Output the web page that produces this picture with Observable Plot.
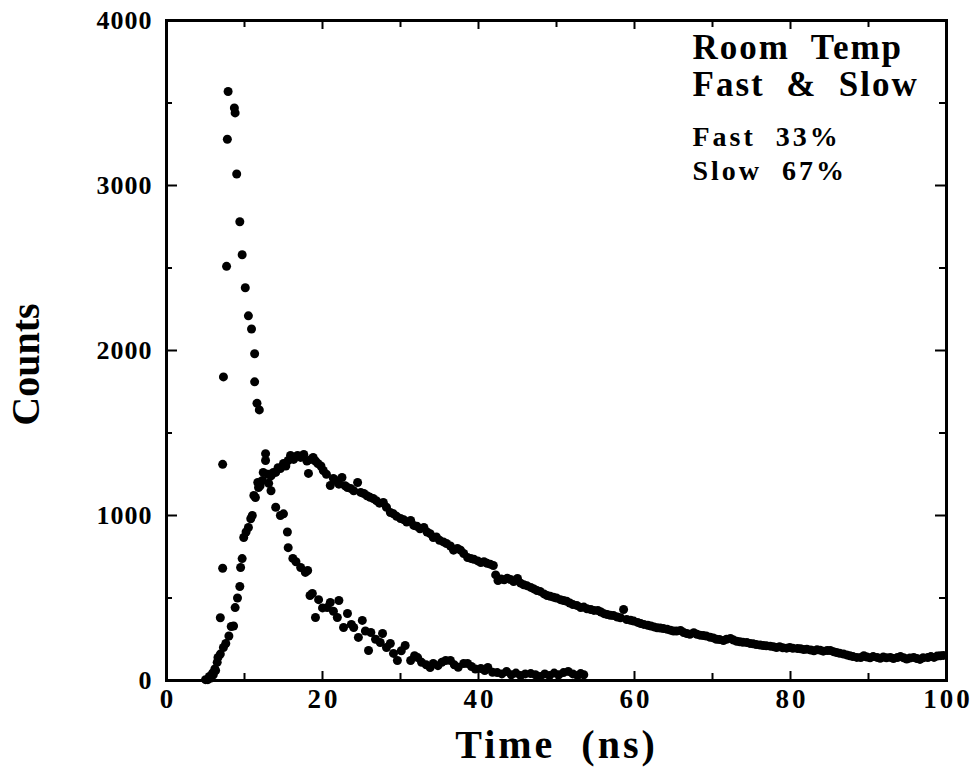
<!DOCTYPE html>
<html>
<head>
<meta charset="utf-8">
<script src="https://cdn.jsdelivr.net/npm/d3@7"></script>
<script src="https://cdn.jsdelivr.net/npm/@observablehq/plot@0.6"></script>
<style>
  html, body { margin: 0; padding: 0; background: #fff; }
  #chart svg { display: block; }
  #chart svg text { white-space: pre; }
  .xtl text { letter-spacing: 3px; }
  .ytl text { letter-spacing: 1px; }
  .big text { letter-spacing: 2px; }
  .mid text { letter-spacing: 3px; }
  .axt text { letter-spacing: 3px; }
</style>
</head>
<body>
<div id="chart"></div>
<script>
// ---- data (time in ns, counts) ----
const fastTime = [5.3,5.7,6.0,6.3,6.6,6.9,7.2,7.2,7.3,7.7,7.8,7.9,8.7,8.8,9.0,9.4,9.7,10.1,10.5,10.9,11.3,11.3,11.6,11.9,12.7,13.1,13.4,14.0,14.6,15.0,15.5,15.6,16.2,16.6,17.2,17.8,18.1,18.4,18.7,19.1,19.5,20.0,20.6,21.0,21.4,21.9,22.1,22.7,23.2,23.7,24.0,24.6,25.1,25.5,25.9,26.2,26.8,27.4,27.7,28.2,28.7,29.1,29.6,30.1,30.6,31.3,31.8,32.2,32.7,33.3,33.8,34.2,34.8,35.3,35.8,36.4,36.9,37.4,38.1,38.6,39.1,39.6,40.3,40.8,41.2,41.8,42.4,43.0,43.6,44.2,44.8,45.4,46.0,46.7,47.3,47.9,48.5,49.1,49.7,50.3,50.9,51.5,52.1,52.7,53.1,53.5];
const fastCounts = [5,15,35,60,140,380,680,1310,1840,2510,3280,3570,3470,3440,3070,2780,2580,2380,2210,2130,1980,1810,1680,1640,1375,1195,1150,1050,1000,1010,900,805,740,720,685,655,667,515,527,382,490,440,442,473,420,382,485,321,406,340,321,261,364,300,182,291,250,230,285,200,224,164,121,180,212,121,150,139,110,95,79,103,90,110,121,121,95,80,103,103,85,70,73,60,79,50,48,40,55,35,45,30,40,42,35,25,40,30,45,35,48,55,40,30,42,35];

const slowTime = [5.0,5.5,5.9,6.2,6.5,6.9,7.3,7.6,8.0,8.3,8.6,8.8,9.1,9.4,9.5,9.7,9.9,10.2,10.5,10.8,11.0,11.2,11.4,11.7,11.8,12.0,12.3,12.4,12.7,13.0,13.4,13.7,14.0,14.3,14.6,15.0,15.3,15.6,15.9,16.3,16.8,17.2,17.6,18.0,18.2,18.5,18.8,19.1,19.4,19.8,20.1,20.5,21.0,21.4,21.8,22.1,22.5,22.9,23.2,23.6,24.0,24.5,24.9,25.3,25.7,26.1,26.5,26.9,27.3,27.8,28.2,28.7,29.1,29.5,30.0,30.4,30.8,31.3,31.7,32.1,32.5,33.0,33.4,33.8,34.2,34.6,35.0,35.5,35.9,36.4,36.8,37.3,37.7,38.1,38.6,39.0,39.4,39.9,40.3,40.7,41.1,41.5,41.9,42.2,42.5,42.9,43.3,43.7,44.1,44.5,45.0,45.4,45.8,46.2,46.7,47.1,47.5,47.9,48.4,48.8,49.2,49.6,50.0,50.5,50.9,51.3,51.7,52.1,52.6,53.1,53.5,53.9,54.4,54.8,55.3,55.7,56.1,56.5,56.9,57.3,57.8,58.2,58.6,59.0,59.5,59.9,60.4,60.8,61.2,61.7,62.1,62.5,62.9,63.3,63.7,64.2,64.6,65.0,65.4,65.9,66.3,66.7,67.1,67.6,68.0,68.4,68.8,69.2,69.7,70.1,70.5,70.9,71.4,71.8,72.3,72.7,73.1,73.5,73.9,74.4,74.8,75.2,75.6,76.1,76.5,76.9,77.4,77.8,78.2,78.6,79.0,79.5,79.9,80.3,80.9,81.3,81.7,82.1,82.6,83.0,83.4,83.8,84.2,84.7,85.1,85.5,85.9,86.3,86.8,87.2,87.6,88.0,88.5,89.0,89.4,89.8,90.2,90.6,91.1,91.5,91.9,92.3,92.8,93.2,93.7,94.1,94.5,94.9,95.3,95.8,96.2,96.6,97.0,97.6,98.0,98.4,98.8,99.2,99.6];
const slowCounts = [5,25,45,70,110,160,200,224,270,327,330,442,500,570,685,739,867,900,927,980,1000,1121,1109,1200,1170,1180,1212,1261,1333,1250,1240,1261,1261,1290,1285,1315,1300,1333,1364,1340,1364,1352,1370,1330,1255,1340,1352,1330,1315,1300,1273,1250,1182,1225,1210,1190,1230,1180,1170,1164,1150,1200,1140,1133,1120,1110,1103,1090,1075,1079,1050,1018,1010,995,982,975,960,970,940,935,920,927,900,890,867,870,850,840,830,815,790,800,790,770,745,740,735,725,715,720,710,705,697,640,606,615,610,620,612,600,618,590,580,575,564,555,545,540,525,515,510,505,500,490,485,480,470,460,455,442,445,435,430,425,424,415,405,400,395,394,385,380,430,370,365,360,352,345,340,335,330,325,320,318,315,310,305,300,300,303,291,285,280,290,280,275,273,270,262,258,250,248,242,250,255,245,238,235,232,230,225,222,218,215,212,210,208,205,200,205,198,196,200,195,194,192,188,190,185,180,186,184,178,182,182,175,170,165,160,155,150,145,140,139,150,142,138,145,140,135,142,138,140,133,139,145,138,130,136,140,133,128,138,139,145,140,148,150,152];

const xTickValues = [0, 20, 40, 60, 80, 100];
const xMinorTicks = [10, 30, 50, 70, 90];
const yTickValues = [0, 1000, 2000, 3000, 4000];
const yMinorTicks = [500, 1500, 2500, 3500];

const xLabel = "Time  (ns)";
const yLabel = "Counts";
const notes = ["Room  Temp", "Fast  &  Slow", "Fast  33%", "Slow  67%"];

// ---- build tables ----
const fast = fastTime.map((t, i) => ({t, c: fastCounts[i]}));
const slow = slowTime.map((t, i) => ({t, c: slowCounts[i]}));

const W = 980, H = 773, mT = 20, mB = 93, mL = 166, mR = 34;
const plotH = H - mT - mB, plotW = W - mL - mR;
const font = "Liberation Serif";

const chart = Plot.plot({
  width: W, height: H,
  marginTop: mT, marginBottom: mB, marginLeft: mL, marginRight: mR,
  style: {fontFamily: font, background: "white", color: "black", overflow: "visible"},
  x: {domain: [0, 100], axis: null},
  y: {domain: [0, 4000], axis: null},
  marks: [
    Plot.frame({stroke: "black", strokeWidth: 3}),
    // inward ticks, bottom & top
    Plot.tickX(xTickValues, {x: d => d, insetTop: plotH - 9, stroke: "black", strokeWidth: 2}),
    Plot.tickX(xMinorTicks, {x: d => d, insetTop: plotH - 7, stroke: "black", strokeWidth: 2}),
    Plot.tickX(xTickValues, {x: d => d, insetBottom: plotH - 9, stroke: "black", strokeWidth: 2}),
    Plot.tickX(xMinorTicks, {x: d => d, insetBottom: plotH - 7, stroke: "black", strokeWidth: 2}),
    // inward ticks, left & right
    Plot.tickY(yTickValues, {y: d => d, insetRight: plotW - 11, stroke: "black", strokeWidth: 2}),
    Plot.tickY(yMinorTicks, {y: d => d, insetRight: plotW - 6, stroke: "black", strokeWidth: 2}),
    Plot.tickY(yTickValues, {y: d => d, insetLeft: plotW - 11, stroke: "black", strokeWidth: 2}),
    Plot.tickY(yMinorTicks, {y: d => d, insetLeft: plotW - 7, stroke: "black", strokeWidth: 2}),
    // tick labels as text marks on the scales
    Plot.text(xTickValues, {x: d => d, frameAnchor: "bottom", lineAnchor: "top", dy: 8, dx: 1.5,
      text: d => String(d), fontSize: 27, fontWeight: "bold", className: "xtl"}),
    Plot.text(yTickValues, {y: d => d, frameAnchor: "left", textAnchor: "end", dx: -14,
      text: d => String(d), fontSize: 26, fontWeight: "bold", className: "ytl"}),
    // data
    Plot.dot(slow, {x: "t", y: "c", r: 4.5, fill: "black", stroke: "none"}),
    Plot.dot(fast, {x: "t", y: "c", r: 4.5, fill: "black", stroke: "none"}),
    // axis titles
    Plot.text([xLabel], {frameAnchor: "bottom", dy: 77, lineAnchor: "bottom", fontSize: 40, fontWeight: "bold", text: d => d, className: "axt"}),
    Plot.text([yLabel], {frameAnchor: "left", dx: -140, dy: 14, rotate: -90, textAnchor: "middle", fontSize: 40, fontWeight: "bold", text: d => d}),
    // annotation block
    Plot.text([notes[0]], {frameAnchor: "top-left", dx: 526, dy: 38, textAnchor: "start", lineAnchor: "bottom", fontSize: 35, fontWeight: "bold", text: d => d, className: "big"}),
    Plot.text([notes[1]], {frameAnchor: "top-left", dx: 526, dy: 75, textAnchor: "start", lineAnchor: "bottom", fontSize: 35, fontWeight: "bold", text: d => d, className: "big"}),
    Plot.text([notes[2]], {frameAnchor: "top-left", dx: 526, dy: 125, textAnchor: "start", lineAnchor: "bottom", fontSize: 28, fontWeight: "bold", text: d => d, className: "mid"}),
    Plot.text([notes[3]], {frameAnchor: "top-left", dx: 526, dy: 159, textAnchor: "start", lineAnchor: "bottom", fontSize: 28, fontWeight: "bold", text: d => d, className: "mid"})
  ]
});
document.getElementById("chart").append(chart);
</script>
</body>
</html>
